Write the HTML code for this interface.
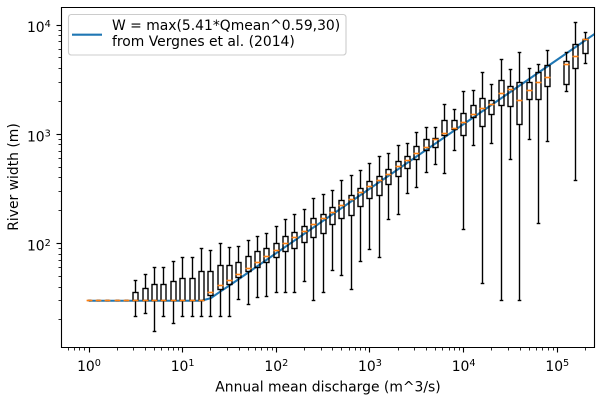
<!DOCTYPE html>
<html lang="en">
<head>
<meta charset="utf-8">
<title>River width vs annual mean discharge</title>
<style>
html,body{margin:0;padding:0;background:#fff;}
svg{display:block;font-family:"DejaVu Sans","Liberation Sans",sans-serif;}
text{fill:#000;font-size:13.9px;}
</style>
</head>
<body>
<svg id="chart" xmlns="http://www.w3.org/2000/svg" width="602" height="401" viewBox="0 0 602 401">
  <defs>
    <clipPath id="plot-clip"><rect x="61.5" y="7.5" width="533" height="340"></rect></clipPath>
  </defs>
  <rect x="0" y="0" width="602" height="401" fill="#fff"></rect>
  <g id="marks" clip-path="url(#plot-clip)"></g>
  <g id="ticks"></g>
  <g stroke="#000" stroke-width="1.11" fill="none">
    <line x1="61.5" y1="7" x2="61.5" y2="348"></line>
    <line x1="594.5" y1="7" x2="594.5" y2="348"></line>
    <line x1="61" y1="7.5" x2="595" y2="7.5"></line>
    <line x1="61" y1="347.5" x2="595" y2="347.5"></line>
  </g>
  <text x="328" y="391.5" text-anchor="middle">Annual mean discharge (m^3/s)</text>
  <text transform="translate(18 177) rotate(-90)" text-anchor="middle">River width (m)</text>
  <g>
    <rect x="68.5" y="14.5" width="277.5" height="40.5" rx="2.8" ry="2.8" fill="#fff" fill-opacity="0.8" stroke="#ccc" stroke-width="1.1"></rect>
    <line x1="72" y1="34.7" x2="102" y2="34.7" stroke="#1f77b4" stroke-width="2.08"></line>
    <text x="112" y="30">W = max(5.41*Qmean^0.59,30)</text>
    <text x="112" y="46">from Vergnes et al. (2014)</text>
  </g>
</svg>
<script>
// Chart data (discharge in m^3/s, width in m)
const binDischarge = [1,1.26,1.58,2,2.51,3.16,3.98,5.01,6.31,7.94,10,12.6,15.8,20,25.1,31.6,39.8,50.1,63.1,79.4,100,126,158,200,251,316,398,501,631,794,1000,1260,1580,2000,2510,3160,3980,5010,6310,7940,10000,12600,15800,20000,25100,31600,39800,50100,63100,79400,126000,158000,200000];
const whiskerHigh = [30,30,30,30,30,45.5,52.7,61,61,68,75,75,91,86,101,92.5,95,106,117,125,142,167,183,203,260,279,307,374,424,471,546,620,661,798,832,1043,1159,1142,1882,1693,2438,2490,3638,2885,4786,3933,5623,3970,4397,5902,5623,10650,8450];
const quartile3 = [30,30,30,30,30,35.8,39,42.4,42.4,45,48,48,55,55,63,63,67.5,76.5,85,91,101,117,127,144,170,185,213,249,274,318,372,409,474,561,629,777,892,906,1343,1331,1543,1828,2117,2030,3093,2725,2965,2990,3690,4277,4656,6653,7345];
const medians = [30,30,30,30,30,30,30,30,30,30,30,30,30,35.8,41,46,52,59,67,76.5,86,101,113,128,150,169,192,221,254,294,332,374,431,506,573,670,754,900,1021,1125,1288,1511,1729,1893,2373,2581,2046,2527,2990,3322,4365,5176,7345];
const quartile1 = [30,30,30,30,30,30,30,30,30,30,30,30,30,33.7,38,42,49,55,61,67.5,74,85,90,103,113,123,149,169,180,218,258,277,349,409,489,590,714,761,985,1095,979,1432,1183,1524,1843,1804,1235,2089,2089,2748,2865,4018,5508];
const whiskerLow = [30,30,30,30,30,21.4,23,15.8,21.4,18.7,21.4,21.4,21.4,21.4,21.4,21.4,30.5,28,32,33,35.8,35.8,35.8,45,30,35.8,57,51,38,69,89,75,167,185,288,327,449,532,436,714,135,787,43,827,30,590,30,900,153,856,2473,379,4467];
const fitDischarge = [1,15.8,20,25.1,31.6,100,1000,10000,100000,250000];
const fitWidth = [30,30,31.7,36.3,41.4,81.9,319,1240,4820,8283];
const xMajorTicks = [0,1,2,3,4,5];
const yMajorTicks = [2,3,4];

const SVGNS = 'http://www.w3.org/2000/svg';
const xScale = q => 89 + 93.66 * Math.log10(q);
const yScale = w => 25 + 109.3 * (4 - Math.log10(w));
const snap = v => Math.round(v - 0.5) + 0.5;
const marks = document.getElementById('marks');
const ticks = document.getElementById('ticks');

function addLine(parent, x1, y1, x2, y2, color, width) {
  const el = document.createElementNS(SVGNS, 'line');
  el.setAttribute('x1', x1);
  el.setAttribute('y1', y1);
  el.setAttribute('x2', x2);
  el.setAttribute('y2', y2);
  el.setAttribute('stroke', color);
  el.setAttribute('stroke-width', width);
  parent.appendChild(el);
  return el;
}

// Fitted relation (drawn first, under the box plots)
const fitPath = document.createElementNS(SVGNS, 'polyline');


fitPath.setAttribute('fill', 'none');
fitPath.setAttribute('stroke', '#1f77b4');
fitPath.setAttribute('stroke-width', '2.08');
fitPath.setAttribute('stroke-linejoin', 'round');
fitPath.setAttribute('points', fitDischarge.map((q, i) => xScale(q).toFixed(2) + ',' + yScale(fitWidth[i]).toFixed(2)).join(' '));
marks.appendChild(fitPath);

// Box plots
binDischarge.forEach((q, i) => {
  const g = document.createElementNS(SVGNS, 'g');
  
  
  const cx = snap(xScale(q));
  const boxHalf = 2.5;
  const medianHalf = 2.9;
  const capHalf = 1.8;
  const yHigh = snap(yScale(whiskerHigh[i]));
  const yQ3 = snap(yScale(quartile3[i]));
  const yMed = snap(yScale(medians[i]));
  const yQ1 = snap(yScale(quartile1[i]));
  const yLow = snap(yScale(whiskerLow[i]));

  const upper = addLine(g, cx, yQ3, cx, yHigh, '#000', 1.39);
  
  
  const lower = addLine(g, cx, yQ1, cx, yLow, '#000', 1.39);
  
  
  const capHigh = addLine(g, cx - capHalf, yHigh, cx + capHalf, yHigh, '#000', 1.39);
  
  
  const capLow = addLine(g, cx - capHalf, yLow, cx + capHalf, yLow, '#000', 1.39);
  
  

  const box = document.createElementNS(SVGNS, 'rect');
  
  
  box.setAttribute('x', cx - boxHalf);
  box.setAttribute('y', yQ3);
  box.setAttribute('width', boxHalf * 2);
  box.setAttribute('height', Math.max(0, yQ1 - yQ3));
  box.setAttribute('fill', 'none');
  box.setAttribute('stroke', '#000');
  box.setAttribute('stroke-width', '1.39');
  g.appendChild(box);

  const med = addLine(g, cx - medianHalf, yMed, cx + medianHalf, yMed, '#ff7f0e', 1.6);
  
  
  marks.appendChild(g);
});

// Tick helpers
function addExpLabel(x, y, anchor, exp) {
  const t = document.createElementNS(SVGNS, 'text');
  
  
  t.setAttribute('x', x);
  t.setAttribute('y', y);
  t.setAttribute('text-anchor', anchor);
  t.appendChild(document.createTextNode('10'));
  const s = document.createElementNS(SVGNS, 'tspan');
  s.setAttribute('dy', '-4.8');
  s.setAttribute('font-size', '9.7');
  s.style.fontSize = '9.7px';
  s.textContent = String(exp);
  t.appendChild(s);
  ticks.appendChild(t);
}

// X ticks
for (let d = -1; d <= 5; d++) {
  for (let m = 1; m <= 9; m++) {
    const x = xScale(m * Math.pow(10, d));
    if (x < 61.5 || x > 594.5) continue;
    const major = m === 1;
    const line = addLine(ticks, snap(x), 347.5, snap(x), 347.5 + (major ? 5 : 3), '#000', major ? 1.11 : 0.83);
    
    
  }
}
xMajorTicks.forEach(e => addExpLabel(xScale(Math.pow(10, e)), 371, 'middle', e));

// Y ticks
for (let d = 1; d <= 4; d++) {
  for (let m = 1; m <= 9; m++) {
    const y = yScale(m * Math.pow(10, d));
    if (y < 7.5 || y > 347.5) continue;
    const major = m === 1;
    const line = addLine(ticks, 61.5, snap(y), 61.5 - (major ? 5 : 3), snap(y), '#000', major ? 1.11 : 0.83);
    
    
  }
}
yMajorTicks.forEach(e => addExpLabel(50.8, yScale(Math.pow(10, e)) + 7, 'end', e));
</script>
</body>
</html>
